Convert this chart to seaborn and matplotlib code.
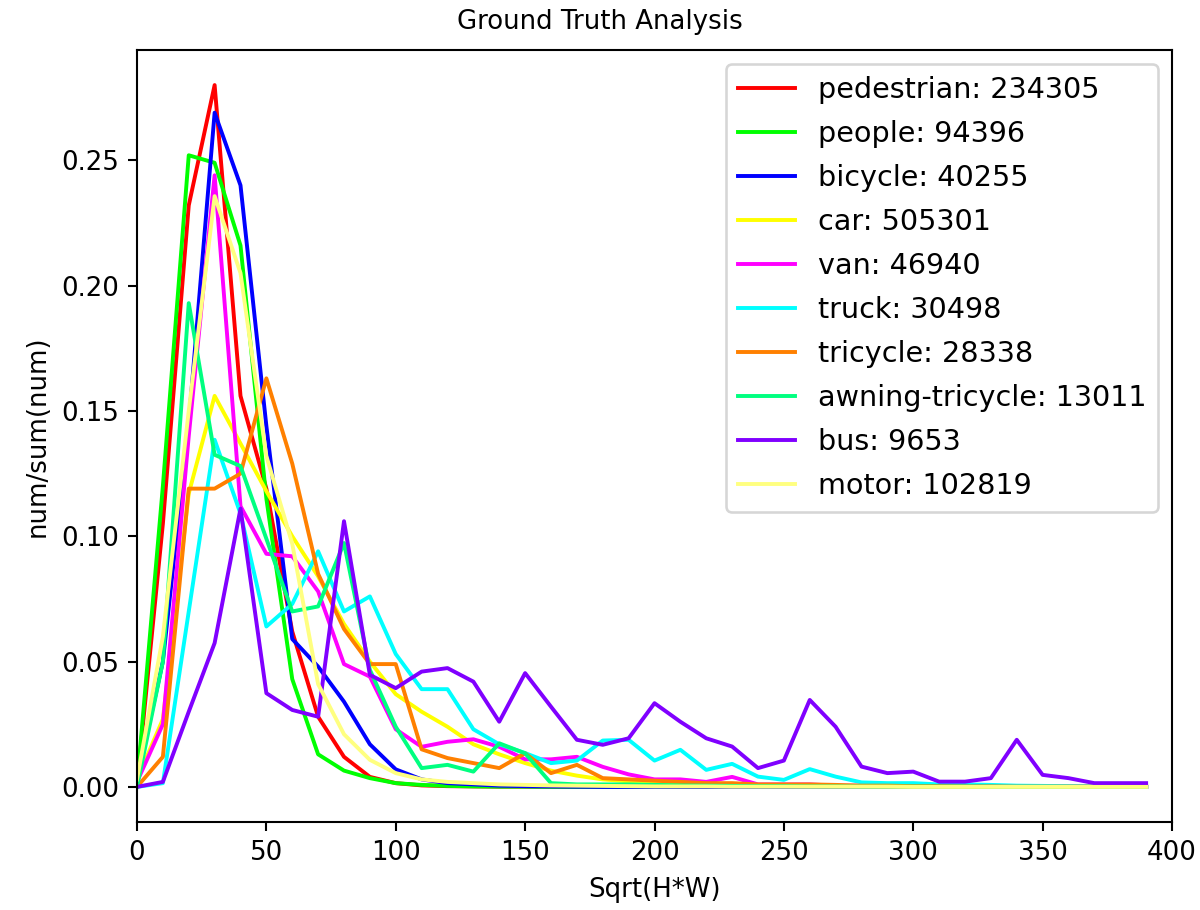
import numpy as np
import pandas as pd
import matplotlib
matplotlib.use("Agg")
import matplotlib.pyplot as plt
import seaborn as sns

x_bins = list(range(0, 400, 10))

labels = ["pedestrian: 234305", "people: 94396", "bicycle: 40255", "car: 505301",
          "van: 46940", "truck: 30498", "tricycle: 28338",
          "awning-tricycle: 13011", "bus: 9653", "motor: 102819"]
colors = ["#ff0000", "#00ff00", "#0000ff", "#ffff00", "#ff00ff",
          "#00ffff", "#ff8000", "#00ff80", "#8000ff", "#ffff80"]

pedestrian = [0.001, 0.105, 0.232, 0.280, 0.156, 0.119, 0.062, 0.028, 0.012, 0.004,
              0.0015, 0.0006, 0.0003, 0.0002, 0.0001, 0.0001, 0, 0, 0, 0,
              0, 0, 0, 0, 0, 0, 0, 0, 0, 0,
              0, 0, 0, 0, 0, 0, 0, 0, 0, 0]
people = [0.001, 0.12, 0.252, 0.249, 0.216, 0.115, 0.043, 0.013, 0.0065, 0.0035,
          0.0015, 0.0008, 0.0004, 0.0002, 0.0001, 0.0001, 0, 0, 0, 0,
          0, 0, 0, 0, 0, 0, 0, 0, 0, 0,
          0, 0, 0, 0, 0, 0, 0, 0, 0, 0]
bicycle = [0.003, 0.05, 0.145, 0.269, 0.240, 0.144, 0.059, 0.048, 0.034, 0.017,
           0.007, 0.003, 0.0015, 0.001, 0.0005, 0.0003, 0.0002, 0.0001, 0, 0,
           0, 0, 0, 0, 0, 0, 0, 0, 0, 0,
           0, 0, 0, 0, 0, 0, 0, 0, 0, 0]
car = [0.003, 0.027, 0.117, 0.156, 0.137, 0.118, 0.100, 0.084, 0.065, 0.050,
       0.037, 0.030, 0.024, 0.017, 0.013, 0.0095, 0.0065, 0.0045, 0.003, 0.0022,
       0.0016, 0.0012, 0.001, 0.0008, 0.0006, 0.0005, 0.0004, 0.0003, 0.0003, 0.0002,
       0.0002, 0.0002, 0.0001, 0.0001, 0.0001, 0.0001, 0.0001, 0.0001, 0.0001, 0.0001]
van = [0.002, 0.025, 0.140, 0.244, 0.112, 0.093, 0.092, 0.078, 0.049, 0.044,
       0.023, 0.016, 0.018, 0.019, 0.016, 0.011, 0.011, 0.012, 0.008, 0.005,
       0.003, 0.003, 0.002, 0.004, 0.001, 0.001, 0.001, 0.0005, 0.0005, 0.0003,
       0.0003, 0.0002, 0.0002, 0.0001, 0.0001, 0.0001, 0.0001, 0.0001, 0.0001, 0.0001]
truck = [0.0, 0.0015, 0.070, 0.1385, 0.109, 0.064, 0.073, 0.094, 0.070, 0.076,
         0.053, 0.039, 0.039, 0.023, 0.017, 0.0135, 0.0095, 0.0105, 0.0185, 0.0188,
         0.0105, 0.0148, 0.0068, 0.0092, 0.0041, 0.0028, 0.0071, 0.0041, 0.0018, 0.0015,
         0.0015, 0.001, 0.001, 0.0008, 0.0005, 0.0004, 0.0003, 0.0002, 0.0002, 0.0001]
tricycle = [0.0, 0.012, 0.119, 0.119, 0.125, 0.163, 0.129, 0.085, 0.063, 0.049,
            0.049, 0.015, 0.0115, 0.0095, 0.0075, 0.0134, 0.0055, 0.0088, 0.0035, 0.003,
            0.0025, 0.002, 0.0015, 0.0015, 0.001, 0.001, 0.001, 0.0008, 0.0005, 0.0005,
            0.0003, 0.0003, 0.0002, 0.0002, 0.0001, 0.0001, 0.0001, 0.0001, 0.0001, 0.0001]
awning = [0.0, 0.05, 0.193, 0.1325, 0.128, 0.099, 0.070, 0.072, 0.0973, 0.0467,
          0.024, 0.0075, 0.0088, 0.0061, 0.0174, 0.0134, 0.0015, 0.001, 0.001, 0.001,
          0.0008, 0.0006, 0.0005, 0.0004, 0.0003, 0.0003, 0.0002, 0.0002, 0.0001, 0.0001,
          0.0001, 0.0001, 0.0001, 0, 0, 0, 0, 0, 0, 0]
bus = [0.0, 0.002, 0.030, 0.0574, 0.111, 0.0374, 0.0307, 0.028, 0.106, 0.0447,
       0.0394, 0.046, 0.0474, 0.042, 0.026, 0.0454, 0.032, 0.0188, 0.0168, 0.0194,
       0.0334, 0.026, 0.0194, 0.0161, 0.0075, 0.0105, 0.0347, 0.024, 0.0081, 0.0055,
       0.0061, 0.0021, 0.0021, 0.0035, 0.0188, 0.0048, 0.0035, 0.0015, 0.0015, 0.0015]
motor = [0.003, 0.06, 0.150, 0.2357, 0.205, 0.132, 0.097, 0.041, 0.021, 0.0108,
         0.0055, 0.003, 0.002, 0.0015, 0.001, 0.0008, 0.0006, 0.0005, 0.0004, 0.0003,
         0.0002, 0.0002, 0.0002, 0.0001, 0.0001, 0.0001, 0.0001, 0.0001, 0.0001, 0.0001,
         0, 0, 0, 0, 0, 0, 0, 0, 0, 0]

series = [pedestrian, people, bicycle, car, van, truck, tricycle, awning, bus, motor]

frames = []
for lab, vals in zip(labels, series):
    frames.append(pd.DataFrame({"x": x_bins, "v": vals, "label": lab}))
df = pd.concat(frames, ignore_index=True)

plt.rcParams["font.family"] = ["DejaVu Sans"]
fig = plt.figure(figsize=(6.4, 910 / 187.5), dpi=187.5)
ax = fig.add_axes([137 / 1200, 1 - 822 / 910, (1172 - 137) / 1200, 772 / 910])

sns.lineplot(data=df, x="x", y="v", hue="label", hue_order=labels,
             palette=dict(zip(labels, colors)), estimator=None, sort=False,
             linewidth=1.5, ax=ax)

ax.set_xlim(0, 400)
ax.set_ylim(-0.014, 0.294)
ax.set_xticks(range(0, 401, 50))
ax.set_yticks([0.0, 0.05, 0.10, 0.15, 0.20, 0.25])
ax.set_yticklabels(["0.00", "0.05", "0.10", "0.15", "0.20", "0.25"])
ax.set_xlabel("Sqrt(H*W)")
ax.set_ylabel("num/sum(num)")
fig.text(0.5, 1 - 22 / 910, "Ground Truth Analysis", ha="center", va="center",
         fontsize=10.0)

handles, labs = ax.get_legend_handles_labels()
ax.legend(handles, labs, loc="upper right", fontsize=11.0, labelspacing=0.56)

fig.savefig("out.png", dpi=187.5)
